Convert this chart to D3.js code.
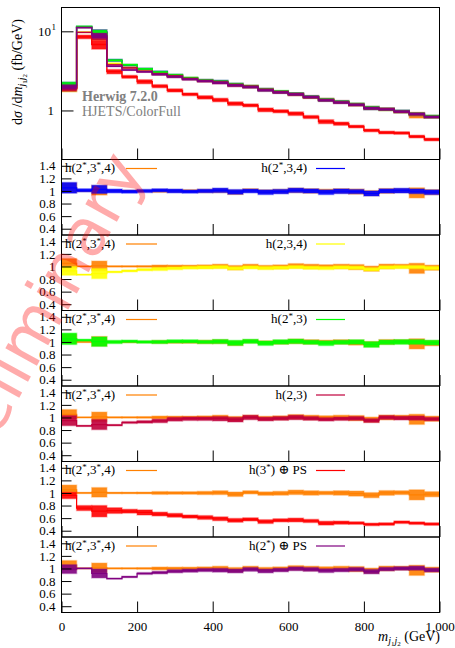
<!DOCTYPE html>
<html>
<head>
<meta charset="utf-8">
<script src="https://cdn.jsdelivr.net/npm/d3@7"></script>
<style>
  body { margin: 0; background: #fff; }
  text { font-family: "Liberation Serif", "DejaVu Serif", serif; fill: #000; }
</style>
</head>
<body>
<svg id="chart" width="455" height="648"></svg>
<script>
// ---- data: m_j1j2 distribution, 40 GeV bins ----
const binEdges = [0, 40, 80, 120, 160, 200, 240, 280, 320, 360, 400, 440, 480, 520,
                  560, 600, 640, 680, 720, 760, 800, 840, 880, 920, 960, 1000];

// normalisation histogram (fb/GeV) used as denominator of the ratio panels
const norm = [2.0, 11.2, 9.6, 4.3, 3.75, 3.35, 3.05, 2.78, 2.56, 2.4, 2.3, 2.16, 2.0,
              1.87, 1.73, 1.6, 1.49, 1.39, 1.29, 1.2, 1.12, 1.04, 0.97, 0.9, 0.85];

// h(2*,3*,4) reference prediction (ratio and its uncertainty)
const refRatio = [1.05, 1.0, 1.01, 1.0, 1.0, 1.0, 1.0, 1.0, 1.0, 1.0, 1.005, 0.98, 1.01,
                  0.99, 0.995, 1.01, 1.0, 1.0, 1.0, 0.99, 0.965, 1.0, 1.005, 0.97, 0.98];
const refErr   = [0.075, 0.008, 0.075, 0.01, 0.01, 0.012, 0.022, 0.02, 0.02, 0.025, 0.03, 0.035, 0.025,
                  0.027, 0.03, 0.035, 0.035, 0.027, 0.035, 0.04, 0.04, 0.037, 0.03, 0.08, 0.04];

// h(2*,3,4)
const r2s34 = [1.05, 1.01, 1.025, 1.0, 0.99, 1.0, 1.01, 1.0, 0.99, 1.0, 1.01, 0.985, 1.0,
               0.98, 0.99, 1.01, 1.0, 0.98, 0.995, 0.99, 0.96, 1.0, 1.005, 0.995, 0.98];
const e2s34 = [0.085, 0.025, 0.065, 0.03, 0.025, 0.025, 0.025, 0.03, 0.025, 0.028, 0.035, 0.037, 0.03,
               0.037, 0.035, 0.035, 0.033, 0.037, 0.037, 0.033, 0.04, 0.033, 0.037, 0.037, 0.037];
// h(2,3,4)
const r234 = [0.93, 0.87, 0.887, 0.913, 0.93, 0.95, 0.96, 0.97, 0.98, 0.985, 0.99, 0.97, 0.985,
              0.975, 0.98, 0.99, 0.98, 0.975, 0.985, 0.98, 0.955, 0.985, 0.99, 0.99, 0.975];
const e234 = [0.07, 0.008, 0.08, 0.012, 0.015, 0.018, 0.025, 0.022, 0.022, 0.025, 0.025, 0.025, 0.025,
              0.025, 0.025, 0.025, 0.025, 0.025, 0.025, 0.025, 0.025, 0.025, 0.025, 0.025, 0.025];
// h(2*,3)
const r2s3 = [1.05, 1.028, 1.005, 1.0, 1.01, 1.0, 1.0, 1.01, 1.01, 1.0, 1.007, 0.985, 1.01,
              0.98, 1.0, 1.01, 0.995, 0.98, 0.995, 1.0, 0.96, 0.995, 1.0, 1.0, 0.99];
const e2s3 = [0.09, 0.015, 0.075, 0.025, 0.02, 0.02, 0.025, 0.025, 0.025, 0.025, 0.032, 0.04, 0.032,
              0.035, 0.035, 0.035, 0.032, 0.037, 0.032, 0.035, 0.045, 0.035, 0.037, 0.037, 0.037];
// h(2,3)
const r23 = [0.95, 0.866, 0.887, 0.877, 0.92, 0.93, 0.945, 0.972, 0.98, 0.98, 0.98, 0.965, 1.0,
             0.975, 0.985, 1.0, 0.985, 0.97, 0.98, 0.985, 0.95, 1.0, 0.99, 0.99, 0.975];
const e23 = [0.08, 0.008, 0.08, 0.01, 0.015, 0.02, 0.028, 0.03, 0.028, 0.028, 0.035, 0.037, 0.035,
             0.03, 0.03, 0.035, 0.03, 0.027, 0.027, 0.03, 0.03, 0.03, 0.03, 0.033, 0.027];
// h(3*) + parton shower
const r3sPS = [0.96, 0.76, 0.71, 0.72, 0.71, 0.69, 0.665, 0.645, 0.625, 0.61, 0.59, 0.565, 0.58,
               0.545, 0.565, 0.57, 0.555, 0.52, 0.528, 0.522, 0.5, 0.506, 0.535, 0.52, 0.506];
const e3sPS = [0.05, 0.04, 0.09, 0.045, 0.03, 0.04, 0.03, 0.03, 0.025, 0.03, 0.03, 0.03, 0.025,
               0.03, 0.025, 0.03, 0.025, 0.03, 0.025, 0.02, 0.02, 0.02, 0.02, 0.02, 0.02];
// h(2*) + parton shower
const r2sPS = [0.99, 1.0, 0.92, 0.84, 0.866, 0.92, 0.935, 0.956, 0.965, 0.975, 0.972, 0.96, 0.985,
               0.96, 0.975, 0.995, 0.985, 0.965, 0.975, 0.985, 0.95, 0.99, 1.0, 1.005, 0.975];
const e2sPS = [0.07, 0.008, 0.07, 0.008, 0.01, 0.015, 0.02, 0.025, 0.025, 0.025, 0.03, 0.03, 0.03,
               0.03, 0.028, 0.03, 0.03, 0.03, 0.028, 0.03, 0.035, 0.028, 0.028, 0.032, 0.03];

const refSeries = { name: "h(2*,3*,4)", color: "#ff8000", r: refRatio, e: refErr };
const series = [
  { name: "h(2*,3,4)",  color: "#0000ff", r: r2s34, e: e2s34 },
  { name: "h(2,3,4)",   color: "#ffff00", r: r234,  e: e234 },
  { name: "h(2*,3)",    color: "#00ff00", r: r2s3,  e: e2s3 },
  { name: "h(2,3)",     color: "#c0003c", r: r23,   e: e23 },
  { name: "h(3*) \u2295 PS", color: "#ff0000", r: r3sPS, e: e3sPS },
  { name: "h(2*) \u2295 PS", color: "#800080", r: r2sPS, e: e2sPS }
];

const ratioTicks = [0.4, 0.6, 0.8, 1.0, 1.2, 1.4];
const ratioMinor = [0.35, 0.45, 0.5, 0.55, 0.65, 0.7, 0.75, 0.85, 0.9, 0.95, 1.05, 1.1, 1.15, 1.25, 1.3, 1.35, 1.45];
const xTicks = [0, 200, 400, 600, 800, 1000];
const xMinor = [50, 100, 150, 250, 300, 350, 450, 500, 550, 650, 700, 750, 850, 900, 950];
const mainMajor = [1, 10];
const mainMinor = [0.3, 0.4, 0.5, 0.6, 0.7, 0.8, 0.9, 2, 3, 4, 5, 6, 7, 8, 9, 20];

// ---- layout ----
const svg = d3.select("#chart");
const left = 61.5, right = 439.5;
const mainTop = 7.5, mainBottom = 159.5;
const ratioH = 75.5;

const x = d3.scaleLinear().domain([0, 1000]).range([left, right]);
const yMain = d3.scaleLog().domain([0.24, 20]).range([mainBottom, mainTop]);

const nBins = binEdges.length - 1;

function stepPoints(vals) {
  return binEdges.map((e, i) => [e, vals[Math.min(i, nBins - 1)]]);
}

function clipFor(id, top, bottom) {
  svg.append("clipPath").attr("id", id)
    .append("rect").attr("x", left).attr("y", top)
    .attr("width", right - left).attr("height", bottom - top);
  return "url(#" + id + ")";
}

// draws one histogram as error band + step line
function drawHist(g, yScale, centre, lo, hi, color, lw) {
  const bins = d3.range(nBins).map(i => ({ x0: binEdges[i], x1: binEdges[i + 1], c: centre[i], lo: lo[i], hi: hi[i] }));
  g.append("g").selectAll("rect").data(bins).join("rect")
    .attr("x", d => x(d.x0))
    .attr("width", d => x(d.x1) - x(d.x0))
    .attr("y", d => yScale(d.hi))
    .attr("height", d => Math.max(0.01, yScale(d.lo) - yScale(d.hi)))
    .attr("fill", color)
    .attr("fill-opacity", 0.9)
    .attr("stroke", color)
    .attr("stroke-opacity", 0.3)
    .attr("stroke-width", 1.5);
  const line = d3.line().x(d => x(d[0])).y(d => yScale(d[1])).curve(d3.curveStepAfter);
  g.append("path").attr("d", line(stepPoints(centre)))
    .attr("fill", "none").attr("stroke", color).attr("stroke-width", lw);
}

function labelWithStars(textSel, str, small) {
  const parts = str.split("*");
  parts.forEach((p, i) => {
    if (i > 0) {
      textSel.append("tspan").attr("dy", -4).attr("font-size", small).text("*");
      textSel.append("tspan").attr("dy", 4).text(p);
    } else {
      textSel.append("tspan").text(p);
    }
  });
}

function bottomTicks(top, bottom) {
  const g = svg.append("g").attr("transform", `translate(0,${bottom})`);
  g.call(d3.axisBottom(x).tickValues(xMinor).tickSize(-5).tickFormat(""));
  g.call(d3.axisBottom(x).tickValues(xTicks).tickSize(-11).tickFormat(""));
  g.select(".domain").remove();
  g.selectAll("line").attr("stroke", "#000");
  return g;
}

// ---- main panel ----
const mainClip = clipFor("clipMain", mainTop, mainBottom);
const mainG = svg.append("g").attr("clip-path", mainClip);
[refSeries, ...series].forEach(s => {
  const c = s.r.map((r, i) => norm[i] * r);
  const lo = s.r.map((r, i) => c[i] * (1 - s.e[i] / r));
  const hi = s.r.map((r, i) => c[i] * (1 + s.e[i] / r));
  drawHist(mainG, yMain, c, lo, hi, s.color, 1.4);
});

{
  const g = svg.append("g").attr("transform", `translate(${left},0)`);
  g.call(d3.axisLeft(yMain).tickValues(mainMinor).tickSize(-6).tickFormat(""));
  g.call(d3.axisLeft(yMain).tickValues(mainMajor).tickSize(-12).tickFormat(""));
  g.select(".domain").remove();
  g.selectAll("line").attr("stroke", "#000");
  svg.append("text").attr("x", 51).attr("y", yMain(10) + 4.5)
    .attr("text-anchor", "end").attr("font-size", 13).text("10");
  svg.append("text").attr("x", 51.5).attr("y", yMain(10) - 1).attr("font-size", 9).text("1");
  svg.append("text").attr("x", 54).attr("y", yMain(1) + 4.5)
    .attr("text-anchor", "end").attr("font-size", 13).text("1");
}
bottomTicks(mainTop, mainBottom);
svg.append("rect").attr("x", left).attr("y", mainTop).attr("width", right - left)
  .attr("height", mainBottom - mainTop).attr("fill", "none").attr("stroke", "#000");

svg.append("text").attr("x", 82).attr("y", 101).attr("font-size", 14)
  .attr("font-weight", "bold").style("fill", "#808080").text("Herwig 7.2.0");
svg.append("text").attr("x", 82).attr("y", 116).attr("font-size", 14)
  .style("fill", "#808080").text("HJETS/ColorFull");

// y label of main panel
{
  const t = svg.append("text").attr("transform", "translate(22,72) rotate(-90)")
    .attr("text-anchor", "middle").attr("font-size", 14);
  t.append("tspan").text("d");
  t.append("tspan").attr("font-style", "italic").text("\u03c3");
  t.append("tspan").text(" /d");
  t.append("tspan").attr("font-style", "italic").text("m");
  t.append("tspan").attr("font-style", "italic").attr("font-size", 10).attr("dy", 3).text("j");
  t.append("tspan").attr("font-size", 7).attr("dy", 2).text("1");
  t.append("tspan").attr("font-style", "italic").attr("font-size", 10).attr("dy", -2).text("j");
  t.append("tspan").attr("font-size", 7).attr("dy", 2).text("2");
  t.append("tspan").attr("dy", -5).text(" (fb/GeV)");
}

// ---- ratio panels ----
series.forEach((s, k) => {
  const top = mainBottom + k * ratioH;
  const bottom = top + ratioH;
  const yR = d3.scaleLinear().domain([0.3, 1.5]).range([bottom, top]);
  const g = svg.append("g").attr("clip-path", clipFor("clipR" + k, top, bottom));

  [refSeries, s].forEach(h => {
    const lo = h.r.map((r, i) => r - h.e[i]);
    const hi = h.r.map((r, i) => r + h.e[i]);
    drawHist(g, yR, h.r, lo, hi, h.color, 1.2);
  });

  const ax = svg.append("g").attr("transform", `translate(${left},0)`);
  ax.call(d3.axisLeft(yR).tickValues(ratioMinor).tickSize(-5).tickFormat(""));
  ax.call(d3.axisLeft(yR).tickValues(ratioTicks).tickSize(-10).tickPadding(6)
    .tickFormat(d => d === 1 ? "1" : d3.format(".1f")(d)));
  ax.select(".domain").remove();
  ax.selectAll("line").attr("stroke", "#000");
  ax.selectAll("text").attr("font-size", 13).attr("font-family", "Liberation Serif, serif");

  const bx = bottomTicks(top, bottom);
  if (k === series.length - 1) {
    bx.call(d3.axisBottom(x).tickValues(xTicks).tickSize(-11).tickPadding(9));
    bx.select(".domain").remove();
    bx.selectAll("line").attr("stroke", "#000");
    bx.selectAll("text").attr("font-size", 13).attr("font-family", "Liberation Serif, serif");
  }

  svg.append("rect").attr("x", left).attr("y", top).attr("width", right - left)
    .attr("height", ratioH).attr("fill", "none").attr("stroke", "#000");

  // legend entries
  const lt = svg.append("text").attr("x", 65).attr("y", top + 12.5).attr("font-size", 13);
  labelWithStars(lt, refSeries.name, 9);
  svg.append("line").attr("x1", 126).attr("x2", 157).attr("y1", top + 9).attr("y2", top + 9)
    .attr("stroke", refSeries.color).attr("stroke-width", 1.2);
  const rt = svg.append("text").attr("x", 307).attr("y", top + 12.5).attr("font-size", 13)
    .attr("text-anchor", "end");
  labelWithStars(rt, s.name, 9);
  svg.append("line").attr("x1", 316).attr("x2", 345).attr("y1", top + 9).attr("y2", top + 9)
    .attr("stroke", s.color).attr("stroke-width", 1.2);
});

// x axis title
{
  const t = svg.append("text").attr("x", 440).attr("y", 641).attr("text-anchor", "end").attr("font-size", 14);
  t.append("tspan").attr("font-style", "italic").text("m");
  t.append("tspan").attr("font-style", "italic").attr("font-size", 10).attr("dy", 3).text("j");
  t.append("tspan").attr("font-size", 7).attr("dy", 2).text("1");
  t.append("tspan").attr("font-style", "italic").attr("font-size", 10).attr("dy", -2).text("j");
  t.append("tspan").attr("font-size", 7).attr("dy", 2).text("2");
  t.append("tspan").attr("dy", -5).text(" (GeV)");
}

// watermark
svg.append("text")
  .attr("transform", "translate(146,169) rotate(-61)")
  .attr("text-anchor", "end")
  .attr("font-size", 66)
  .style("font-family", "'DejaVu Sans', sans-serif")
  .style("fill", "#ff0000")
  .style("fill-opacity", 0.33)
  .text("Preliminary");
</script>
</body>
</html>
